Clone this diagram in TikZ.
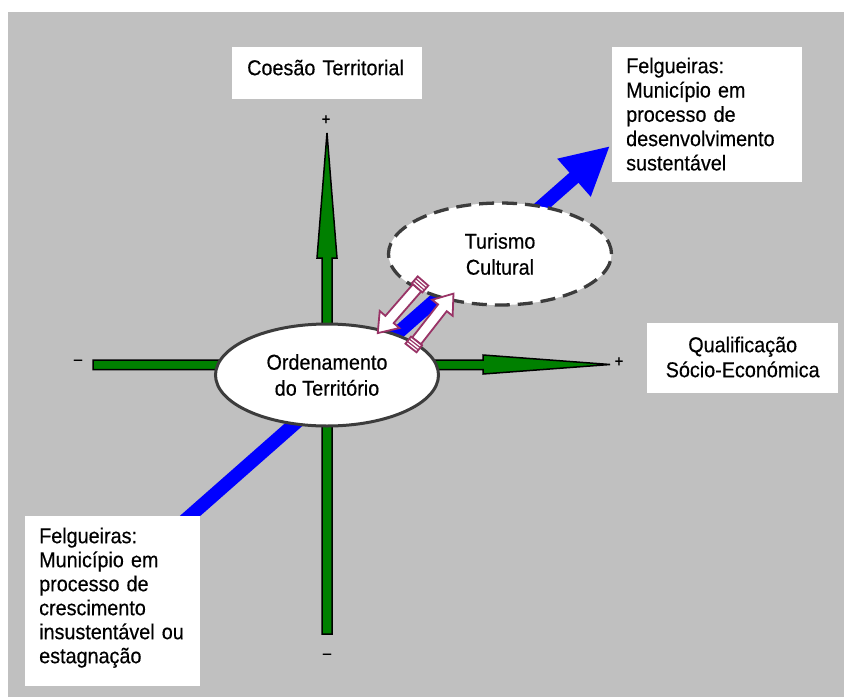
\documentclass[tikz,border=0pt]{standalone}
\usepackage{fontspec}
\setmainfont{Liberation Sans}[FakeStretch=0.92, FakeBold=0.4]
\usepackage{tikz}
\usetikzlibrary{arrows.meta}
\usetikzlibrary{shapes.geometric}

\definecolor{bggray}{RGB}{192,192,192}
\definecolor{axisgreen}{RGB}{0,128,0}
\definecolor{rimgray}{RGB}{60,60,60}
\definecolor{plum}{RGB}{153,51,102}

\tikzset{
    txtbox/.style={fill=white, inner xsep=14pt, inner ysep=11pt, align=left, anchor=north west, font=\fontsize{21.5}{24.3}\selectfont},
    themeellipse/.style={ellipse, fill=white, draw=rimgray, minimum width=223pt, minimum height=102pt, inner sep=0pt, align=center, font=\fontsize{21.5}{26}\selectfont},
    signlbl/.style={inner sep=0pt, font=\fontsize{16}{18}\selectfont},
    axisarrow/.style={fill=axisgreen, draw=black, line width=1.5pt, line join=miter},
    dualarrow/.style={fill=white, draw=plum, line width=1.8pt, line join=miter}
}

\begin{document}
\begin{tikzpicture}[x=1pt, y=-1pt]
    		\useasboundingbox (0,0) rectangle (844,697);
    		\fill [bggray] (8,12) rectangle (844,697);
    		% blue path
    		\coordinate (low) at (140,560);
    		\coordinate (high) at (610,146);
    		\draw [blue, line width=13.5pt, -{Triangle[length=48pt, width=47pt]}] (low) -- (high);
    		% axes
    		\draw [axisarrow] (322,634) -- (322,258) -- (317,258) -- (327,133) -- (337,258) -- (332,258) -- (332,634) -- cycle;
    		\draw [axisarrow] (93,360) -- (483,360) -- (483,355) -- (610,364.5) -- (483,374) -- (483,369.5) -- (93,369.5) -- cycle;
    		\node [themeellipse, line width=3pt] (ord) at (327,375) {Ordenamento\\do Território};
    		\node [themeellipse, line width=3.3pt, dash pattern=on 15pt off 8pt] (tur) at (500,254) {Turismo\\Cultural};
    		% two-way arrows
    		\begin{scope}[shift={(423,281)}, rotate=229]
    			\draw [dualarrow] (9,-5.5) -- (51,-5.5) -- (51,-13) -- (69,0) -- (51,13) -- (51,5.5) -- (9,5.5) -- cycle;
    			\draw [dualarrow] (0,-7) rectangle (9,7);
    			\draw [plum, line width=1.2pt] (3,-7) -- (3,7) (6,-7) -- (6,7);
    		\end{scope}
    		\begin{scope}[shift={(411,348)}, rotate=52]
    			\draw [dualarrow] (9,-5.5) -- (51,-5.5) -- (51,-13) -- (69,0) -- (51,13) -- (51,5.5) -- (9,5.5) -- cycle;
    			\draw [dualarrow] (0,-7) rectangle (9,7);
    			\draw [plum, line width=1.2pt] (3,-7) -- (3,7) (6,-7) -- (6,7);
    		\end{scope}
    		\node [txtbox, text width=160pt, inner xsep=15pt, text height=17pt, text depth=13pt] (coesao) at (232,47) {Coesão Territorial};
    		\node [txtbox, text width=162pt, text height=15pt] (sust) at (612,47) {Felgueiras:\\Município em\\processo de\\desenvolvimento\\sustentável};
    		\node [txtbox, text width=163pt, align=center, inner ysep=16pt, text height=13pt, font=\fontsize{21.5}{25}\selectfont] (qualif) at (647,323) {Qualificação\\Sócio-Económica};
    		\node [txtbox, text width=147pt, inner ysep=18.5pt, text height=8.5pt, font=\fontsize{21.5}{24}\selectfont] (insust) at (25,516) {Felgueiras:\\Município em\\processo de\\crescimento\\insustentável ou\\estagnação};
    		\node [signlbl] (plusN) at (326,120) {+};
    		\node [signlbl] (minusS) at (327,656) {–};
    		\node [signlbl] (minusW) at (78,362) {–};
    		\node [signlbl] (plusE) at (619,362) {+};
    	\end{tikzpicture}
\end{document}
